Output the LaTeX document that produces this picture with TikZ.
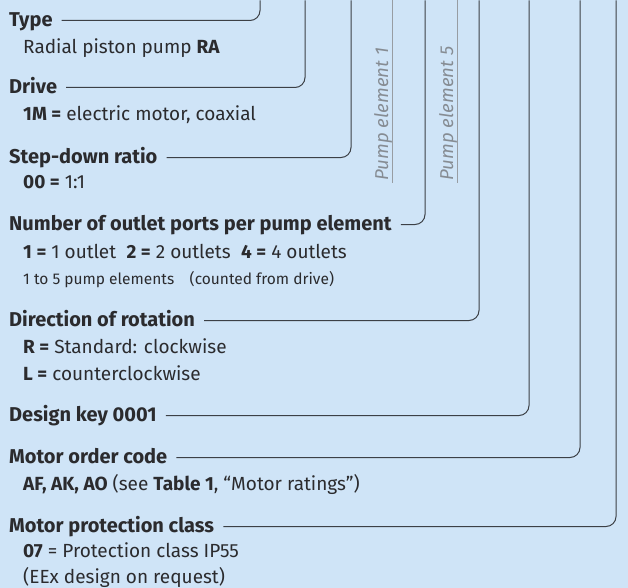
\documentclass[tikz,border=0pt]{standalone}
\usepackage{fontspec}
\setmainfont{Fira Sans}
\usetikzlibrary{positioning}
\definecolor{bgblue}{HTML}{CFE4F7}
\definecolor{ink}{HTML}{2B2B2E}
\definecolor{leadgray}{HTML}{3C4046}
\definecolor{pegray}{HTML}{868C93}
\tikzset{
  head/.style={anchor=base west, inner sep=0pt, text=ink, font=\fontsize{20}{24}\selectfont\bfseries},
  val/.style={anchor=base west, inner sep=0pt, text=ink, font=\fontsize{19}{23}\selectfont},
  note/.style={val, font=\fontsize{15.5}{19}\selectfont},
  lead/.style={draw=leadgray, line width=1pt, rounded corners=10pt},
  pelabel/.style={anchor=base west, inner sep=0pt, rotate=90, text=pegray, font=\fontsize{18.6}{22}\selectfont\itshape},
  peline/.style={draw=pegray!85, line width=0.8pt}
}
\begin{document}
\begin{tikzpicture}[x=1pt,y=-1pt]
    \fill[bgblue] (0,0) rectangle (628,587);

    \node[head] (type) at (9,26) {Type};
    \node[val] (typeval) at (23,53) {Radial piston pump \textbf{RA}};
    \node[head] (drive) at (9,93) {Drive};
    \node[val] (driveval) at (23,120) {\textbf{1M =} electric motor, coaxial};
    \node[head] (ratio) at (9,163) {Step-down ratio};
    \node[val] (ratioval) at (23,188) {\textbf{00 =} 1:1};
    \node[head] (ports) at (9,230) {Number of outlet ports per pump element};
    \node[val] (portsval) at (23,258) {\textbf{1 =} 1 outlet\hspace{0.55em}\textbf{2 =} 2 outlets\hspace{0.55em}\textbf{4 =} 4 outlets};
    \node[note] (portsnote) at (23,284) {1 to 5 pump elements\hspace{1em}(counted from drive)};
    \node[head] (rot) at (9,326) {Direction of rotation};
    \node[val] (rotR) at (23,353) {\textbf{R =} Standard: clockwise};
    \node[val] (rotL) at (23,380) {\textbf{L =} counterclockwise};
    \node[head] (key) at (9,421) {Design key 0001};
    \node[head] (order) at (9,463) {Motor order code};
    \node[val] (orderval) at (23,490) {\textbf{AF, AK, AO} (see \textbf{Table 1}, “Motor ratings”)};
    \node[head] (prot) at (9,532) {Motor protection class};
    \node[val] (protval) at (23,557) {\textbf{07} = Protection class IP55};
    \node[val] (protnote) at (23,583) {(EEx design on request)};

    \node[pelabel] (pe1) at (388,180) {Pump element 1};
    \node[pelabel] (pe5) at (453,180) {Pump element 5};

    \coordinate (top) at (0,0);
    \coordinate (c1) at (260,0);
    \coordinate (c2) at (305,0);
    \coordinate (c3) at (351,0);
    \coordinate (c4) at (425,0);
    \coordinate (c5) at (479,0);
    \coordinate (c6) at (529,0);
    \coordinate (c7) at (580,0);
    \coordinate (c8) at (616,0);

    \draw[lead] ([shift={(9pt,6pt)}]type.base east) -| (c1);
    \draw[lead] ([shift={(9pt,6pt)}]drive.base east) -| (c2);
    \draw[lead] ([shift={(9pt,6pt)}]ratio.base east) -| (c3);
    \draw[lead] ([shift={(9pt,6pt)}]ports.base east) -| (c4);
    \draw[lead] ([shift={(9pt,6pt)}]rot.base east) -| (c5);
    \draw[lead] ([shift={(9pt,6pt)}]key.base east) -| (c6);
    \draw[lead] ([shift={(9pt,6pt)}]order.base east) -| (c7);
    \draw[lead] ([shift={(9pt,6pt)}]prot.base east) -| (c8);

    \draw[peline] ([xshift=4pt,yshift=-2pt]pe1.base west) -- ([xshift=4pt]pe1.base west |- top);
    \draw[peline] ([xshift=4pt,yshift=-2pt]pe5.base west) -- ([xshift=4pt]pe5.base west |- top);
\end{tikzpicture}
\end{document}
